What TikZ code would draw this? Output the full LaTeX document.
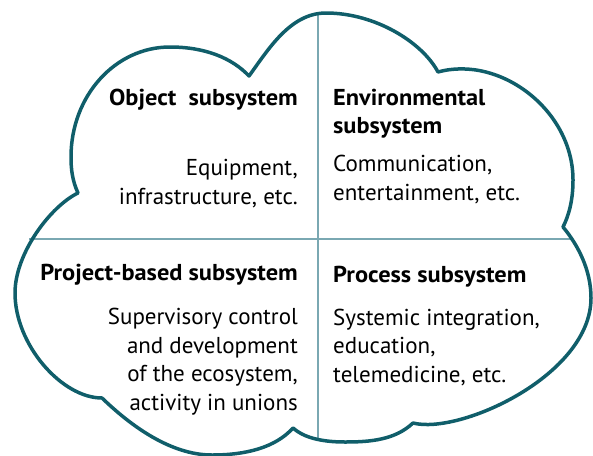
\documentclass[tikz,border=0pt]{standalone}
\usepackage{fontspec}
\setmainfont{PT Sans}[BoldFeatures={FakeStretch=1.06}]
\usepackage{tikz}

\begin{document}
\begin{tikzpicture}
		[x=1pt,y=-1pt,line join=round,
		%Styles
		cloud line/.style={line width=3.5pt,draw=cloudcolor},
		divider/.style={line width=1.6pt,draw=dividercolor},
		heading/.style={inner sep=0pt,font=\fontsize{23}{28}\selectfont\bfseries},
		body text/.style={inner sep=0pt,font=\fontsize{23}{28.5}\selectfont}
		]
		
		%Colors
		\definecolor{cloudcolor}{RGB}{16,94,106}	%outline of the cloud
		\definecolor{dividercolor}{RGB}{122,168,178}
		
		\useasboundingbox (0,0) rectangle (593,455);
		
		%The dividers
		\coordinate (top) at (318,14);
		\coordinate (bottom) at (318,440);
		\coordinate (left) at (29,239);
		\coordinate (right) at (573,239);
		\draw[divider] (top) -- (bottom);
		\draw[divider] (left) -- (right);
		
		%The cloud
		\draw[cloud line] (78,193) .. controls (72,180) and (71,168) .. (71,157)
			.. controls (71,96) and (115,47) .. (170,47)
			.. controls (205,47) and (232,58) .. (249,76)
			.. controls (268,50) and (290,13) .. (326,13)
			.. controls (375,13) and (422,42) .. (438,72)
			.. controls (500,55) and (573,110) .. (573,180)
			.. controls (573,200) and (569,215) .. (563,227)
			.. controls (578,245) and (591,270) .. (591,298)
			.. controls (591,375) and (460,435) .. (413,423)
			.. controls (395,440) and (370,442) .. (345,442)
			.. controls (320,442) and (303,437) .. (293,428)
			.. controls (275,448) and (245,455) .. (212,455)
			.. controls (170,455) and (130,425) .. (102,398)
			.. controls (62,398) and (15,345) .. (15,293)
			.. controls (15,253) and (51,206) .. cycle;
		
		%The texts (base = last line)
		\node[heading,anchor=base east] (object) at (298,105) {Object\ \ subsystem};
		\node[body text,anchor=base east,align=right] (objectitems) at (298,204) {Equipment,\\infrastructure, etc.};
		
		\node[heading,anchor=base west,align=left] (environment) at (333,133) {Environmental\\subsystem};
		\node[body text,anchor=base west,align=left] (environmentitems) at (333,200) {Communication,\\entertainment, etc.};
		
		\node[heading,anchor=base east] (project) at (298,280) {Project-based subsystem};
		\node[body text,anchor=base east,align=right] (projectitems) at (298,410) {Supervisory control\\and development\\of the ecosystem,\\activity in unions};
		
		\node[heading,anchor=base west] (process) at (333,282) {Process subsystem};
		\node[body text,anchor=base west,align=left] (processitems) at (333,382) {Systemic integration,\\education,\\telemedicine, etc.};
	\end{tikzpicture}
\end{document}
